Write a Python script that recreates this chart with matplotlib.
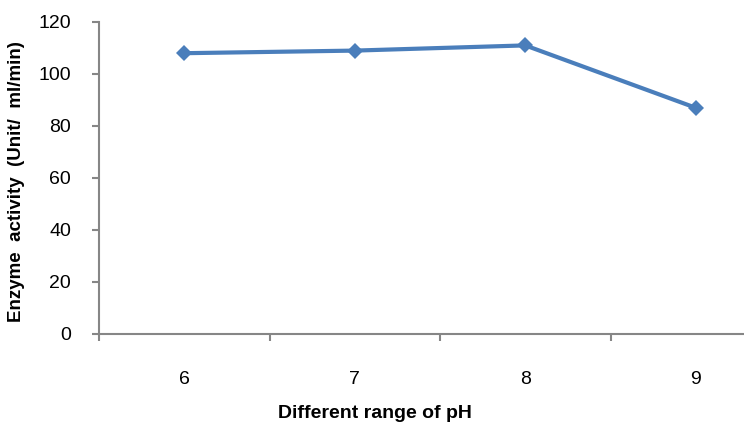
import matplotlib
matplotlib.use("Agg")
import matplotlib.pyplot as plt

# 数据
ph_labels = ["6", "7", "8", "9"]
activity = [108, 109, 111, 87]

plt.rcParams['font.family'] = ['Liberation Sans', 'DejaVu Sans']

fig = plt.figure(figsize=(7.44, 4.28), dpi=100)
# 右侧坐标轴超出画布（原图被裁剪）
ax = fig.add_axes([99 / 744, 94 / 428, 682 / 744, 312 / 428])

x = list(range(len(ph_labels)))
ax.plot(x, activity, color="#4a7ebb", linewidth=3, marker="D",
        markersize=8, markeredgewidth=0, zorder=3)

ax.set_xlim(-0.5, 3.5)
ax.set_ylim(0, 120)
ax.set_yticks(range(0, 121, 20))

ax.set_xticks(x)
ax.set_xticklabels(ph_labels)
ax.set_xticks([-0.5, 0.5, 1.5, 2.5, 3.5], minor=True)

for s in ["top", "right"]:
    ax.spines[s].set_visible(False)
for s in ["left", "bottom"]:
    ax.spines[s].set_color("#868686")
    ax.spines[s].set_linewidth(1.5)

ax.tick_params(axis="y", length=5, width=1.5, color="#868686",
               labelsize=14, pad=15)
ax.tick_params(axis="x", which="major", length=0, labelsize=14, pad=27)
ax.tick_params(axis="x", which="minor", length=5, width=1.5, color="#868686")

ax.set_xlabel("Different range of pH", fontsize=14, fontweight="bold")
ax.xaxis.set_label_coords(276 / 682, -71 / 312)
ax.set_ylabel("Enzyme  activity  (Unit/  ml/min)", fontsize=13.5, fontweight="bold")
ax.yaxis.set_label_coords(-74 / 682, 0.49)

fig.savefig("out.png", dpi=100)
